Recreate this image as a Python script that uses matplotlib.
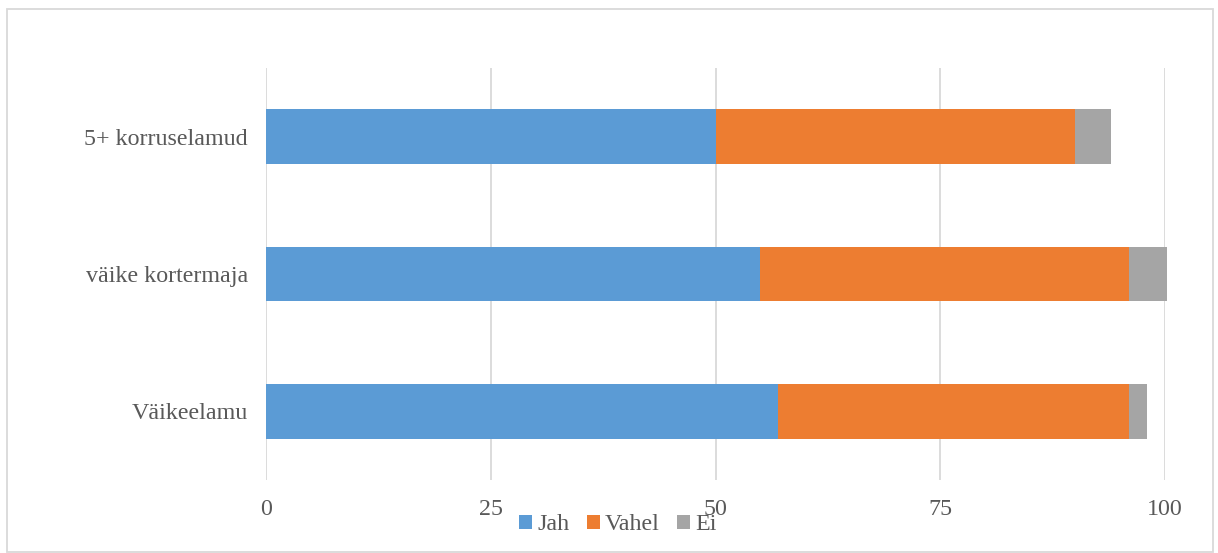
import numpy as np
import matplotlib
matplotlib.use("Agg")
import matplotlib.pyplot as plt
from matplotlib.patches import Rectangle

plt.rcParams['font.family'] = ['Liberation Serif', 'DejaVu Serif']

categories = ['Väikeelamu', 'väike kortermaja', '5+ korruselamud']
jah = [57, 55, 50]
vahel = [39, 41, 40]
ei = [2, 4.2, 4]
series_names = ['Jah', 'Vahel', 'Ei']
colors = ['#5B9BD5', '#ED7D31', '#A5A5A5']
ticks = [0, 25, 50, 75, 100]

W, H = 1218, 553
fig = plt.figure(figsize=(W / 100, H / 100), dpi=100)
# axes placed in pixel terms of the reference
ax = fig.add_axes([266 / W, 1 - 480 / H, (1165 - 266) / W, (480 - 68) / H])

y = np.arange(len(categories))
left = np.zeros(len(categories))
for vals, name, c in zip([jah, vahel, ei], series_names, colors):
    ax.barh(y, vals, left=left, height=0.4, color=c, label=name, zorder=3, clip_on=False)
    left += np.array(vals)

ax.set_xlim(0, 100)
ax.set_ylim(-0.5, 2.5)
ax.set_xticks(ticks)
ax.set_xticklabels([str(t) for t in ticks])
ax.set_yticks(y)
ax.set_yticklabels(categories)
ax.grid(axis='x', color='#D9D9D9', linewidth=1.3, zorder=0)
for s in ax.spines.values():
    s.set_visible(False)
ax.tick_params(length=0, labelsize=17.3, colors='#595959', pad=14)
ax.tick_params(axis='y', pad=13)

leg = fig.legend(loc='center', bbox_to_anchor=(618 / W, 1 - 525 / H), ncol=3, frameon=False,
                 fontsize=17.3, handlelength=0.55, handleheight=0.55, handletextpad=0.22,
                 columnspacing=0.7, borderaxespad=0, borderpad=0)
for t in leg.get_texts():
    t.set_color('#595959')

# outer chart border
fig.patches.append(Rectangle((7 / W, 1 / H), (1213 - 7) / W, (544 - 1) / H,
                             transform=fig.transFigure, fill=False,
                             edgecolor='#D9D9D9', linewidth=1.3))

fig.savefig('out.png', dpi=100)
